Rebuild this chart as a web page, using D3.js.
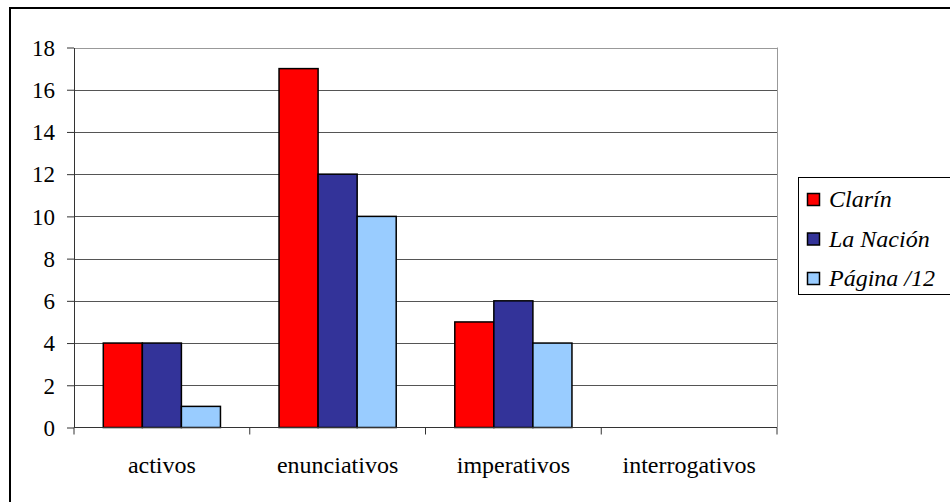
<!DOCTYPE html>
<html><head><meta charset="utf-8">
<script src="https://cdn.jsdelivr.net/npm/d3@7"></script>
</head><body style="margin:0;background:#fff">
<svg id="c" width="950" height="502" style="display:block;font-family:'Liberation Serif','Times New Roman'"></svg>
<script>
const categories = ["activos","enunciativos","imperativos","interrogativos"];
const seriesNames = ["Clarín","La Nación","Página /12"];
const clarin = [4,17,5,0];
const laNacion = [4,12,6,0];
const pagina12 = [1,10,4,0];
const yTicks = [0,2,4,6,8,10,12,14,16,18];
const colors = ["#ff0000","#333399","#99ccff"];
const series = [clarin, laNacion, pagina12];

const svg = d3.select("#c");
const L = 74, R = 777, T = 47.5, B = 427.5;

function serif(sel, size, italic) {
  sel.attr("font-family", null)
     .style("font-family", '"Liberation Serif", "Times New Roman"')
     .style("font-size", size + "px")
     .style("font-style", italic ? "italic" : "normal");
  return sel;
}

svg.append("rect").attr("x",10).attr("y",8).attr("width",1000).attr("height",1000)
  .attr("fill","none").attr("stroke","#000").attr("stroke-width",2);

const x = d3.scaleBand().domain(categories).range([L,R]).paddingInner(0).paddingOuter(0);
const y = d3.scaleLinear().domain([0,18]).range([B,T]);
const inner = d3.scaleBand().domain(d3.range(3)).range([0,x.bandwidth()]).paddingInner(0).paddingOuter(0.75);

svg.append("g").selectAll("line").data(yTicks.filter(d=>d>0)).join("line")
  .attr("x1",L).attr("x2",R).attr("y1",d=>Math.round(y(d))+0.5).attr("y2",d=>Math.round(y(d))+0.5)
  .attr("stroke",d=>d===18?"#999":"#555").attr("stroke-width",1);
svg.append("line").attr("x1",R+0.5).attr("x2",R+0.5).attr("y1",T).attr("y2",B).attr("stroke","#999");

const g = svg.append("g");
series.forEach((s,si)=>{
  g.selectAll(null).data(s.map((v,i)=>({v,c:categories[i]})).filter(d=>d.v>0)).join("rect")
    .attr("x",d=>x(d.c)+inner(si))
    .attr("y",d=>y(d.v))
    .attr("width",inner.bandwidth())
    .attr("height",d=>y(0)-y(d.v))
    .attr("fill",colors[si]).attr("stroke","#000").attr("stroke-width",1.5);
});

const ya = svg.append("g").attr("transform",`translate(${L},0)`)
  .call(d3.axisLeft(y).tickValues(yTicks).tickSize(7).tickPadding(12).tickSizeOuter(0));
ya.attr("font-family", null).attr("font-size", null);
ya.select(".domain").attr("stroke","#333");
ya.selectAll(".tick line").attr("stroke","#333");
serif(ya.selectAll("text"), 23).attr("fill","#000").attr("dy","0.34em");

const xa = svg.append("g").attr("transform",`translate(0,${B})`);
xa.append("line").attr("x1",L).attr("x2",R).attr("stroke","#333");
xa.selectAll(".tk").data(d3.range(categories.length+1)).join("line")
  .attr("x1",i=>L+i*x.bandwidth()).attr("x2",i=>L+i*x.bandwidth()).attr("y1",0).attr("y2",7).attr("stroke","#333");
serif(xa.selectAll("text").data(categories).join("text")
  .attr("x",d=>x(d)+x.bandwidth()/2).attr("y",45).attr("text-anchor","middle")
  .attr("fill","#000").text(d=>d), 24);

const lg = svg.append("g");
lg.append("rect").attr("x",798.5).attr("y",177.5).attr("width",200).attr("height",117)
  .attr("fill","#fff").attr("stroke","#000").attr("stroke-width",1);
seriesNames.forEach((n,i)=>{
  const by = 207 + i*39.5;
  lg.append("rect").attr("x",807.5).attr("y",by-13.5).attr("width",12).attr("height",12)
    .attr("fill",colors[i]).attr("stroke","#000").attr("stroke-width",1.5);
  serif(lg.append("text").attr("x",829).attr("y",by).attr("fill","#000").text(n), 24, true);
});
</script>
</body></html>
